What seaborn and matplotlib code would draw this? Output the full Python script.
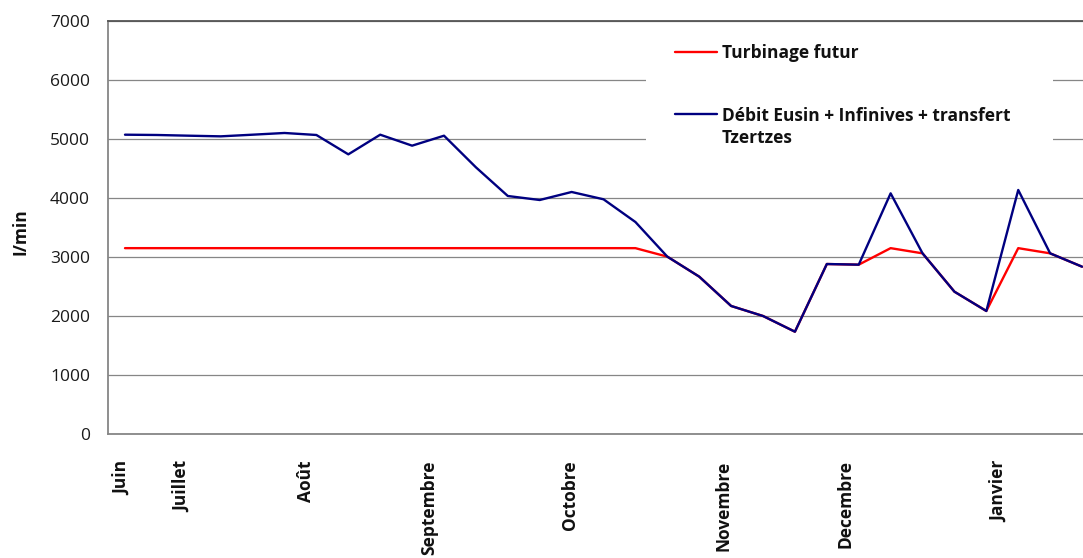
import matplotlib
matplotlib.use("Agg")
import matplotlib.pyplot as plt
import pandas as pd
import seaborn as sns
from matplotlib.patches import Rectangle
from matplotlib.lines import Line2D

# Weekly flow values (l/min)
semaines = list(range(31))
turbinage_futur = [3150, 3150, 3150, 3150, 3150, 3150, 3150, 3150, 3150, 3150,
                   3150, 3150, 3150, 3150, 3150, 3150, 3150, 3006, 2667, 2170,
                   2000, 1734, 2881, 2870, 3150, 3062, 2412, 2085, 3150, 3062,
                   2836]
debit_total = [5073, 5068, 5056, 5045, 5073, 5102, 5068, 4740, 5073, 4887,
               5056, 4520, 4034, 3966, 4102, 3978, 3593, 3006, 2667, 2170,
               2000, 1734, 2881, 2870, 4079, 3062, 2412, 2085, 4136, 3062,
               2836]

serie_turbinage = "Turbinage futur"
serie_debit = "Débit Eusin + Infinives + transfert\nTzertzes"

mois = ["Juin", "Juillet", "Août", "Septembre", "Octobre", "Novembre",
        "Decembre", "Janvier"]
mois_pos = [-0.10, 1.80, 5.67, 9.53, 13.95, 18.75, 22.60, 27.40]

y_ticks = [0, 1000, 2000, 3000, 4000, 5000, 6000, 7000]

df = pd.DataFrame({
    "semaine": semaines + semaines,
    "debit": turbinage_futur + debit_total,
    "serie": [serie_turbinage] * len(semaines) + [serie_debit] * len(semaines),
})

sns.set_theme(style="white")
plt.rcParams["font.family"] = ["Open Sans", "DejaVu Sans"]

W, H = 1083, 558
fig = plt.figure(figsize=(W / 100, H / 100), dpi=100)
ax_l, ax_r, ax_t, ax_b = 108, 1083, 21, 434
ax = fig.add_axes([ax_l / W, 1 - ax_b / H, (ax_r - ax_l) / W, (ax_b - ax_t) / H])

couleurs = {serie_turbinage: "#ff0000", serie_debit: "#000080"}
sns.lineplot(data=df, x="semaine", y="debit", hue="serie",
             hue_order=[serie_turbinage, serie_debit], palette=couleurs,
             linewidth=1.7, legend=False, sort=False, ax=ax, zorder=3)

ax.set_xlim(-0.533, 30.03)
ax.set_ylim(0, 7000)
ax.set_yticks(y_ticks)
ax.set_yticklabels([str(v) for v in y_ticks], fontsize=12.5, color="#1a1a1a")
ax.set_xticks(mois_pos)
ax.set_xticklabels(mois, rotation=90, fontsize=12.5, fontweight="bold",
                   color="#111111")
ax.tick_params(axis="both", length=0)
ax.tick_params(axis="y", pad=13)
ax.tick_params(axis="x", pad=19)
ax.set_xlabel("")
ax.set_ylabel("I/min", fontsize=12.5, fontweight="bold", color="#111111")
ax.yaxis.set_label_coords(-0.0805, 0.49)

ax.yaxis.grid(True, color="#868686", linewidth=0.9)
ax.xaxis.grid(False)
ax.set_axisbelow(True)

for side in ("left", "bottom"):
    ax.spines[side].set_color("#868686")
    ax.spines[side].set_linewidth(1.3)
ax.spines["top"].set_color("#555555")
ax.spines["top"].set_linewidth(1.3)
ax.spines["right"].set_visible(False)

# Legend panel
def fx(px):
    return (px - ax_l) / (ax_r - ax_l)

def fy(py):
    return (ax_b - py) / (ax_b - ax_t)

ax.add_patch(Rectangle((fx(646), fy(168)), fx(1053) - fx(646), fy(26) - fy(168),
                       transform=ax.transAxes, facecolor="white",
                       edgecolor="none", zorder=1))
for py, serie in ((52, serie_turbinage), (114, serie_debit)):
    ax.add_line(Line2D([fx(675), fx(717)], [fy(py), fy(py)],
                       transform=ax.transAxes, color=couleurs[serie],
                       linewidth=1.7, zorder=4))
ax.text(fx(722), fy(58.3), serie_turbinage, transform=ax.transAxes,
        fontsize=12.5, fontweight="bold", va="baseline", ha="left",
        color="#111111", zorder=4)
ax.text(fx(722), fy(143.3), serie_debit, transform=ax.transAxes,
        fontsize=12.5, fontweight="bold", va="baseline", ha="left",
        linespacing=1.32, color="#111111", zorder=4)

fig.savefig("out.png", dpi=100, facecolor="white")
